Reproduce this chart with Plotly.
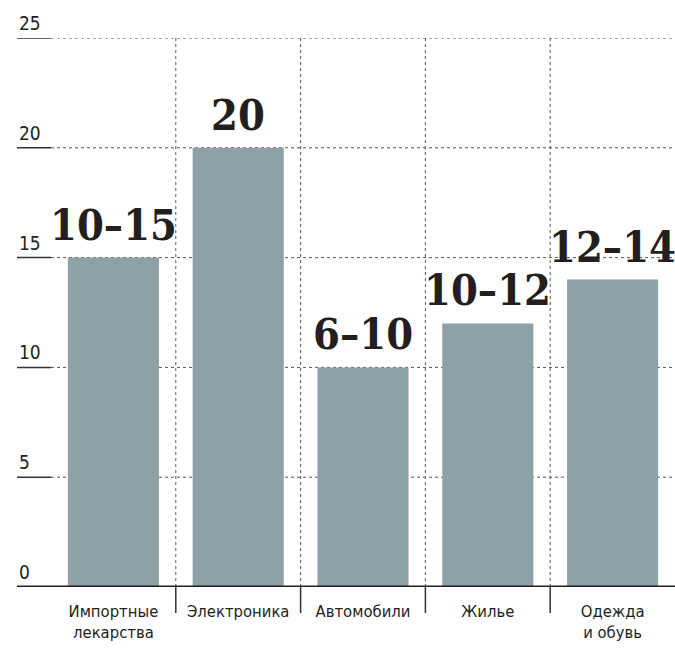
import plotly.graph_objects as go

categories = ["Импортные<br>лекарства", "Электроника", "Автомобили", "Жилье", "Одежда<br>и обувь"]
values = [15, 20, 10, 12, 14]
value_labels = ["10–15", "20", "6–10", "10–12", "12–14"]
y_ticks = [0, 5, 10, 15, 20, 25]

W, H = 675, 652
ML, MR, MT, MB = 51, 0, 38, 65
pw = W - ML - MR
ph = H - MT - MB
left_px = 17
xl = -(ML - left_px) / pw

sans = "Liberation Sans Narrow, DejaVu Sans Condensed, Roboto, sans-serif"
serif = "DejaVu Serif Condensed, DejaVu Serif, Liberation Serif, serif"

fig = go.Figure()
fig.add_trace(go.Bar(
    x=list(range(len(categories))),
    y=values,
    marker=dict(color="#8ea1a7", line=dict(width=0)),
    width=0.73,
    hoverinfo="skip",
))

shapes = []
annotations = []
for i, (v, lab) in enumerate(zip(values, value_labels)):
    annotations.append(dict(xref="x", yref="y", x=i, y=v, xanchor="center", yanchor="bottom",
                            text=lab, showarrow=False, yshift=6,
                            font=dict(family=serif, size=43, color="#231f20", weight="bold")))

for t in y_ticks:
    if t > 0:
        shapes.append(dict(type="line", xref="paper", yref="y", x0=0, x1=1, y0=t, y1=t,
                           line=dict(color="#555", width=1, dash="dot"), layer="below"))
        shapes.append(dict(type="line", xref="paper", yref="y", x0=xl, x1=0, y0=t, y1=t,
                           line=dict(color="#333", width=1.5), layer="above"))
    annotations.append(dict(xref="paper", yref="y", x=xl, y=t, xanchor="left", yanchor="bottom",
                            text=str(t), showarrow=False, yshift=2,
                            font=dict(family=sans, size=19, color="#231f20")))

tick_px = 26
for b in [0.5, 1.5, 2.5, 3.5]:
    shapes.append(dict(type="line", xref="x", yref="y", x0=b, x1=b, y0=0, y1=25,
                       line=dict(color="#555", width=1, dash="dot"), layer="below"))
    shapes.append(dict(type="line", xref="x", yref="paper", x0=b, x1=b, y0=0, y1=-tick_px / ph,
                       line=dict(color="#333", width=1.5), layer="above"))

shapes.append(dict(type="line", xref="paper", yref="y", x0=xl, x1=1, y0=0, y1=0,
                   line=dict(color="#231f20", width=3), layer="above"))

fig.update_layout(
    width=W, height=H,
    margin=dict(l=ML, r=MR, t=MT, b=MB),
    paper_bgcolor="white", plot_bgcolor="white",
    showlegend=False,
    hovermode=False,
    shapes=shapes,
    annotations=annotations,
    xaxis=dict(
        range=[-0.5, 4.5],
        tickmode="array",
        tickvals=list(range(len(categories))),
        ticktext=categories,
        showgrid=False, zeroline=False, showline=False, ticks="",
        ticklabelstandoff=12,
        tickfont=dict(family=sans, size=16.5, color="#231f20"),
    ),
    yaxis=dict(
        range=[0, 25],
        showgrid=False, zeroline=False, showline=False, showticklabels=False, ticks="",
    ),
)

fig.write_html(
    "out.html",
    config={"displayModeBar": False},
    post_script="document.body.style.margin='0';document.body.style.overflow='hidden';",
)
